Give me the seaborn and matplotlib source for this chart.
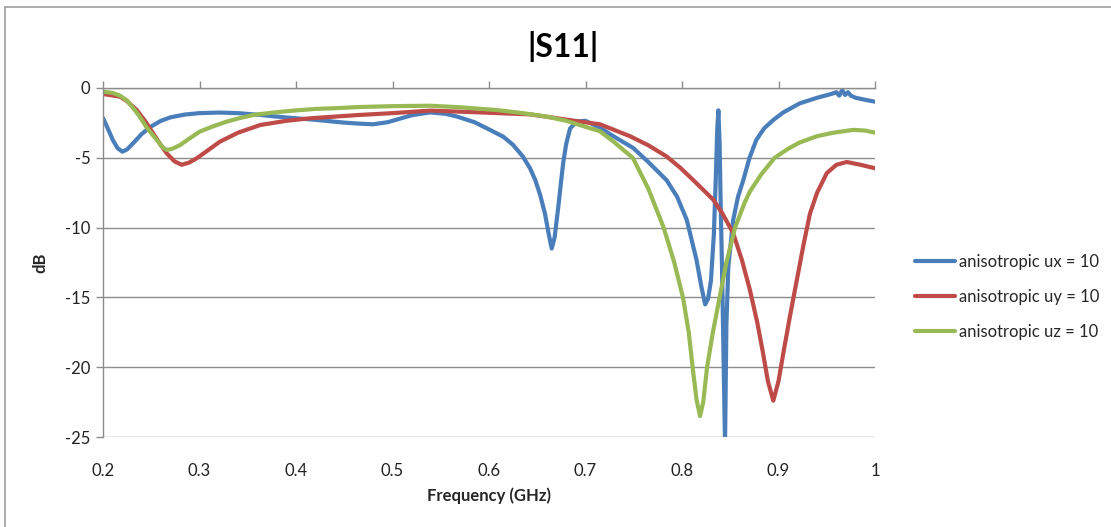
import numpy as np
import pandas as pd
import matplotlib
matplotlib.use("Agg")
import matplotlib.pyplot as plt
import seaborn as sns
from matplotlib.lines import Line2D

# ---------------- data ----------------
series_names = ["anisotropic ux = 10", "anisotropic uy = 10", "anisotropic uz = 10"]

freq_ux = [0.200, 0.205, 0.210, 0.215, 0.220, 0.225, 0.232, 0.240, 0.250, 0.260,
           0.270, 0.285, 0.300, 0.320, 0.340, 0.363, 0.380, 0.400, 0.420, 0.435,
           0.450, 0.465, 0.480, 0.495, 0.505, 0.520, 0.539, 0.555, 0.567, 0.585,
           0.601, 0.615, 0.625, 0.635, 0.6425, 0.648, 0.653, 0.658, 0.662, 0.665,
           0.668, 0.672, 0.675, 0.677, 0.680, 0.684, 0.691, 0.700, 0.715, 0.730,
           0.7495, 0.765, 0.784, 0.795, 0.805, 0.815, 0.820, 0.824, 0.827, 0.830,
           0.833, 0.835, 0.8365, 0.8377, 0.839, 0.840, 0.8415, 0.843, 0.8446, 0.846,
           0.848, 0.853, 0.858, 0.8635, 0.870, 0.877, 0.885, 0.8946, 0.905, 0.922,
           0.940, 0.955, 0.960, 0.963, 0.966, 0.969, 0.972, 0.975, 0.980, 0.990, 1.000]
db_ux = [-2.15, -2.9, -3.7, -4.3, -4.56, -4.4, -3.9, -3.3, -2.75, -2.35,
         -2.1, -1.9, -1.8, -1.76, -1.8, -1.93, -2.05, -2.17, -2.28, -2.38,
         -2.48, -2.55, -2.6, -2.45, -2.25, -1.95, -1.75, -1.85, -2.05, -2.45,
         -3.0, -3.5, -4.08, -4.9, -5.75, -6.6, -7.66, -9.0, -10.5, -11.5,
         -10.7, -8.4, -6.5, -5.3, -4.0, -2.9, -2.4, -2.35, -2.85, -3.5,
         -4.3, -5.3, -6.6, -7.8, -9.46, -12.3, -14.2, -15.5, -15.1, -13.8,
         -10.5, -6.5, -3.0, -1.6, -4.0, -8.0, -13.0, -19.0, -25.5, -17.0,
         -12.8, -9.46, -7.8, -6.6, -5.0, -3.72, -2.9, -2.29, -1.75, -1.1,
         -0.7, -0.42, -0.3, -0.55, -0.15, -0.5, -0.3, -0.55, -0.7, -0.85, -0.98]

freq_uy = [0.200, 0.2176, 0.225, 0.235, 0.244, 0.252, 0.259, 0.266, 0.274, 0.2815,
           0.289, 0.297, 0.309, 0.321, 0.340, 0.363, 0.390, 0.4145, 0.440, 0.466,
           0.500, 0.539, 0.580, 0.6425, 0.694, 0.715, 0.746, 0.765, 0.784, 0.798,
           0.8117, 0.8324, 0.842, 0.853, 0.862, 0.8705, 0.878, 0.884, 0.889, 0.8946,
           0.900, 0.905, 0.912, 0.919, 0.926, 0.9326, 0.940, 0.950, 0.960, 0.9707,
           0.985, 1.000]
db_uy = [-0.43, -0.62, -0.95, -1.58, -2.4, -3.25, -4.0, -4.68, -5.25, -5.5,
         -5.35, -5.04, -4.45, -3.85, -3.2, -2.65, -2.35, -2.17, -2.05, -1.93,
         -1.8, -1.62, -1.72, -1.89, -2.4, -2.6, -3.45, -4.1, -4.9, -5.7,
         -6.6, -8.0, -9.0, -10.4, -12.3, -14.5, -16.8, -19.0, -21.0, -22.4,
         -21.0, -19.0, -16.3, -13.75, -11.2, -9.0, -7.5, -6.1, -5.5, -5.3,
         -5.5, -5.75]

freq_uz = [0.200, 0.210, 0.2176, 0.225, 0.232, 0.238, 0.245, 0.2556, 0.262, 0.266,
           0.272, 0.280, 0.290, 0.300, 0.314, 0.328, 0.342, 0.356, 0.375, 0.397,
           0.420, 0.440, 0.466, 0.500, 0.539, 0.570, 0.608, 0.635, 0.660, 0.680,
           0.694, 0.715, 0.729, 0.749, 0.765, 0.781, 0.792, 0.801, 0.807, 0.811,
           0.815, 0.8187, 0.822, 0.826, 0.832, 0.839, 0.846, 0.855, 0.865, 0.8705,
           0.882, 0.896, 0.910, 0.922, 0.940, 0.957, 0.9775, 0.990, 1.000]
db_uz = [-0.26, -0.35, -0.55, -0.9, -1.5, -2.05, -2.8, -3.72, -4.25, -4.44,
         -4.35, -4.08, -3.6, -3.13, -2.75, -2.41, -2.15, -1.93, -1.77, -1.62,
         -1.5, -1.45, -1.36, -1.3, -1.27, -1.38, -1.58, -1.8, -2.05, -2.35,
         -2.65, -3.1, -3.84, -5.0, -7.2, -10.0, -12.5, -15.0, -17.5, -20.0,
         -22.3, -23.5, -22.5, -20.0, -17.5, -15.0, -12.5, -10.0, -8.2, -7.4,
         -6.2, -5.0, -4.35, -3.9, -3.45, -3.2, -3.0, -3.05, -3.2]

x_ticks = [0.2, 0.3, 0.4, 0.5, 0.6, 0.7, 0.8, 0.9, 1.0]
x_tick_labels = ["0.2", "0.3", "0.4", "0.5", "0.6", "0.7", "0.8", "0.9", "1"]
y_ticks = [0, -5, -10, -15, -20, -25]

colors = ["#4A7EBB", "#BE4B48", "#98B954"]

# ---------------- frame ----------------
frames = []
for name, f, d in zip(series_names, [freq_ux, freq_uy, freq_uz], [db_ux, db_uy, db_uz]):
    frames.append(pd.DataFrame({"Frequency": f, "dB": d, "series": name}))
df = pd.concat(frames, ignore_index=True)

sns.set_theme(style="white")
plt.rcParams["font.family"] = ["Lato", "DejaVu Sans"]

fig = plt.figure(figsize=(11.11, 5.27), dpi=100)
ax = fig.add_axes([103 / 1111, 1 - 437 / 527, (875 - 103) / 1111, (437 - 88) / 527])

sns.lineplot(data=df, x="Frequency", y="dB", hue="series", hue_order=series_names,
             palette=colors, sort=False, estimator=None, linewidth=3.0, ax=ax,
             legend=False)

ax.set_xlim(0.2, 1.0)
ax.set_ylim(-25, 0)
ax.set_xticks(x_ticks)
ax.set_xticklabels(x_tick_labels)
ax.set_yticks(y_ticks)
ax.set_yticklabels([str(v) for v in y_ticks])

ax.yaxis.grid(True, color="#8C8C8C", linewidth=1.0)
ax.xaxis.grid(False)
ax.set_axisbelow(True)

for s in ["right", "bottom"]:
    ax.spines[s].set_visible(False)
for s in ["top", "left"]:
    ax.spines[s].set_visible(True)
    ax.spines[s].set_color("#8C8C8C")
    ax.spines[s].set_linewidth(1.0)

ax.tick_params(axis="x", bottom=False, top=True, labelbottom=True, labeltop=False,
               direction="out", length=5, width=1, color="#8C8C8C",
               labelsize=12, pad=14, labelcolor="#222222")
ax.tick_params(axis="y", left=True, direction="out", length=5, width=1,
               color="#8C8C8C", labelsize=12, pad=4, labelcolor="#222222")

ax.set_xlabel("Frequency (GHz)", fontsize=12, fontweight="bold", labelpad=6)
ax.set_ylabel("dB", fontsize=12, fontweight="bold", labelpad=12)

fig.text(563 / 1111, 1 - 46 / 527, "|S11|", ha="center", va="center",
         fontsize=23, fontweight="bold", color="black")

handles = [Line2D([0], [0], color=c, linewidth=3.0) for c in colors]
fig.legend(handles, series_names, loc="center left",
           bbox_to_anchor=(900 / 1111, 1 - 297 / 527), frameon=False,
           fontsize=12, handlelength=2.4, handletextpad=0.25, labelspacing=1.15)

# outer chart border (top and left visible)
fig.add_artist(Line2D([5 / 1111, 1.0], [1 - 7 / 527, 1 - 7 / 527],
                      transform=fig.transFigure, color="#A0A0A0", linewidth=1.2))
fig.add_artist(Line2D([5 / 1111, 5 / 1111], [0.0, 1 - 7 / 527],
                      transform=fig.transFigure, color="#A0A0A0", linewidth=1.2))

fig.savefig("out.png", dpi=100)
